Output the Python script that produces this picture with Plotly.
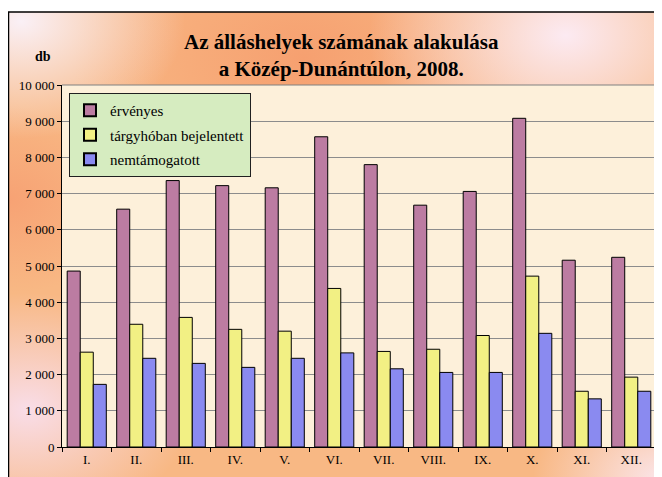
import base64
import plotly.graph_objects as go

months = ["I.", "II.", "III.", "IV.", "V.", "VI.", "VII.", "VIII.", "IX.", "X.", "XI.", "XII."]
ervenyes = [4860, 6570, 7360, 7220, 7160, 8570, 7800, 6680, 7060, 9080, 5160, 5240]
targyhoban = [2620, 3390, 3580, 3250, 3200, 4380, 2640, 2700, 3080, 4720, 1540, 1930]
nemtamogatott = [1730, 2450, 2310, 2200, 2450, 2600, 2160, 2060, 2060, 3140, 1330, 1540]
series_names = ["érvényes", "tárgyhóban bejelentett", "nemtámogatott"]
y_ticks = [0, 1000, 2000, 3000, 4000, 5000, 6000, 7000, 8000, 9000, 10000]
y_ticktext = ["0", "1 000", "2 000", "3 000", "4 000", "5 000", "6 000", "7 000", "8 000", "9 000", "10 000"]

OFF = 8  # page body margin
W, H = 662 - OFF, 477 - OFF
# plot area in screen pixels: x 62..656, y 85..447
L = 62 - OFF
T = 85 - OFF
R = W - (656 - OFF)
B = H - (447 - OFF)
pw, ph = W - L - R, H - T - B

def px_x(sx):
    return (sx - OFF - L) / pw

def px_y(sy):
    return (H - B - (sy - OFF)) / ph

svg = """<svg xmlns='http://www.w3.org/2000/svg' width='656' height='466' viewBox='0 0 656 466'>
<defs>
<radialGradient id='a' cx='0.02' cy='0.02' r='0.25'><stop offset='0' stop-color='#FAF0F6'/><stop offset='1' stop-color='#FAF0F6' stop-opacity='0'/></radialGradient>
<radialGradient id='b' cx='0.85' cy='0.05' r='0.3'><stop offset='0' stop-color='#FCEAF2'/><stop offset='1' stop-color='#FCEAF2' stop-opacity='0'/></radialGradient>
<radialGradient id='c' cx='0.03' cy='0.85' r='0.25'><stop offset='0' stop-color='#F9DDE8'/><stop offset='1' stop-color='#F9DDE8' stop-opacity='0'/></radialGradient>
<radialGradient id='d' cx='1' cy='1' r='0.2'><stop offset='0' stop-color='#FBE6EC'/><stop offset='1' stop-color='#FBE6EC' stop-opacity='0'/></radialGradient>
<radialGradient id='e' cx='0.45' cy='0.1' r='0.35'><stop offset='0' stop-color='#F6A070'/><stop offset='1' stop-color='#F6A070' stop-opacity='0'/></radialGradient>
<radialGradient id='f' cx='1' cy='0.45' r='0.3'><stop offset='0' stop-color='#FCC888'/><stop offset='1' stop-color='#FCC888' stop-opacity='0'/></radialGradient>
<radialGradient id='g' cx='0.0' cy='0.4' r='0.2'><stop offset='0' stop-color='#F7A274'/><stop offset='1' stop-color='#F7A274' stop-opacity='0'/></radialGradient>
</defs>
<rect width='656' height='466' fill='#F8B884'/>
<rect width='656' height='466' fill='url(#e)'/>
<rect width='656' height='466' fill='url(#f)'/>
<rect width='656' height='466' fill='url(#g)'/>
<rect width='656' height='466' fill='url(#a)'/>
<rect width='656' height='466' fill='url(#b)'/>
<rect width='656' height='466' fill='url(#c)'/>
<rect width='656' height='466' fill='url(#d)'/>
</svg>"""
bg_uri = "data:image/svg+xml;base64," + base64.b64encode(svg.encode()).decode()

colors = ["#BC7CA2", "#F2F084", "#8A8AF0"]
serif = "Liberation Serif"

fig = go.Figure()
for i, (name, vals, col) in enumerate(zip(series_names, [ervenyes, targyhoban, nemtamogatott], colors)):
    fig.add_trace(go.Bar(
        x=months, y=vals, name=name, legendgroup=f"g{i}",
        marker=dict(color=col, line=dict(color="#000000", width=1)),
    ))

fig.add_layout_image(dict(
    source=bg_uri, xref="paper", yref="paper",
    x=px_x(8), y=px_y(12), sizex=px_x(664) - px_x(8), sizey=px_y(12) - px_y(480),
    sizing="stretch", layer="below", xanchor="left", yanchor="top",
))
fig.add_shape(type="rect", xref="paper", yref="paper", x0=0, x1=1, y0=0, y1=1,
              fillcolor="#FDF0DA", line=dict(width=0), layer="below")
fig.add_shape(type="rect", xref="paper", yref="paper", x0=px_x(8.5), x1=px_x(666),
              y0=px_y(482), y1=px_y(12), line=dict(color="#000000", width=1.5), layer="above")
fig.add_shape(type="line", xref="paper", yref="paper", x0=1, x1=1, y0=0, y1=1,
              line=dict(color="#808080", width=2), layer="below")
fig.add_shape(type="line", xref="paper", yref="paper", x0=0, x1=1, y0=1, y1=1,
              line=dict(color="#808080", width=1), layer="below")

fig.add_annotation(text="<b>Az álláshelyek számának alakulása<br>a Közép-Dunántúlon, 2008.</b>",
                   xref="paper", yref="paper", x=px_x(341), y=px_y(55),
                   xanchor="center", yanchor="middle", showarrow=False,
                   font=dict(family=serif, size=21, color="#000000"), align="center")
fig.add_annotation(text="<b>db</b>", xref="paper", yref="paper", x=px_x(43), y=px_y(56),
                   xanchor="center", yanchor="middle",
                   showarrow=False, font=dict(family=serif, size=14, color="#000000"))

fig.update_layout(
    width=W, height=H,
    margin=dict(l=L, r=R, t=T, b=B, pad=0),
    paper_bgcolor="#FFFFFF",
    plot_bgcolor="rgba(0,0,0,0)",
    barmode="group", bargap=0.21, bargroupgap=0,
    showlegend=True,
    legend=dict(
        x=px_x(69), y=px_y(93), xanchor="left", yanchor="top",
        bgcolor="#D6ECC0", bordercolor="#202020", borderwidth=1,
        font=dict(family=serif, size=15, color="#000000"),
        itemsizing="constant", tracegroupgap=2,
    ),
    xaxis=dict(
        type="category", tickson="boundaries", ticks="outside", ticklen=4,
        tickcolor="#000000", showline=True, linecolor="#000000", linewidth=1,
        tickfont=dict(family=serif, size=13, color="#000000"), showgrid=False,
    ),
    yaxis=dict(
        range=[0, 10000], tickvals=y_ticks, ticktext=y_ticktext,
        ticks="outside", ticklen=4, tickcolor="#000000",
        showline=True, linecolor="#000000", linewidth=1,
        gridcolor="#8C8C8C", gridwidth=1,
        tickfont=dict(family=serif, size=13, color="#000000"),
        zeroline=False,
    ),
)

fig.write_html("out.html")
